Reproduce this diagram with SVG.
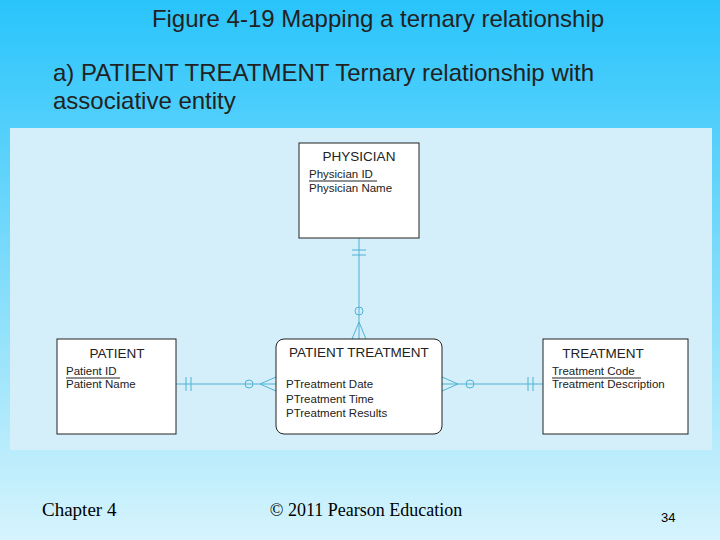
<svg xmlns="http://www.w3.org/2000/svg" width="720" height="540" viewBox="0 0 720 540">
<defs>
<linearGradient id="bg" x1="0" y1="0" x2="0" y2="1">
<stop offset="0" stop-color="#29c4fb"/><stop offset="0.5" stop-color="#7fdcfb"/><stop offset="1" stop-color="#d6f4fd"/>
</linearGradient>
</defs>
<style>
.ent{fill:#fff;stroke:#222;stroke-width:1}
.t{font-family:"Liberation Sans",Arial,sans-serif;fill:#222}
.h{font-size:13.5px}
.a{font-size:11.5px}
.c{stroke:#4fb3d6;stroke-width:1;fill:none}
</style>
<rect width="720" height="540" fill="url(#bg)"/>
<rect x="10" y="128" width="702" height="322" fill="#d4eefa"/>
<text x="378" y="27" text-anchor="middle" class="t" font-size="24" fill="#000">Figure 4-19 Mapping a ternary relationship</text>
<text x="53" y="81" class="t" font-size="24" fill="#000">a) PATIENT TREATMENT Ternary relationship with</text>
<text x="53" y="109" class="t" font-size="24" fill="#000">associative entity</text>
<g id="connectors">
<path class="c" d="M359 238V339M352 250H366M352 255H366M359 322L352 339M359 322L366 339"/>
<circle class="c" cx="359" cy="311" r="4" fill="#d4eefa"/>
<path class="c" d="M176 384H276M186 377V391M191 377V391M260 384L276 377M260 384L276 391"/>
<circle class="c" cx="249" cy="384" r="4" fill="#d4eefa"/>
<path class="c" d="M442 384H543M528 377V391M533 377V391M458 384L442 377M458 384L442 391"/>
<circle class="c" cx="470" cy="384" r="4" fill="#d4eefa"/>
</g>
<g id="physician">
<rect class="ent" x="299" y="143" width="120" height="95"/>
<text x="359" y="161" text-anchor="middle" class="t h">PHYSICIAN</text>
<text x="309" y="178" class="t a">Physician ID</text>
<line x1="309" y1="181" x2="377" y2="181" stroke="#222"/>
<text x="309" y="192" class="t a">Physician Name</text>
</g>
<g id="patient">
<rect class="ent" x="57" y="339" width="119" height="95"/>
<text x="117" y="358" text-anchor="middle" class="t h">PATIENT</text>
<text x="66" y="375" class="t a">Patient ID</text>
<line x1="66" y1="378" x2="120" y2="378" stroke="#222"/>
<text x="66" y="388" class="t a">Patient Name</text>
</g>
<g id="patient-treatment">
<rect class="ent" x="276" y="339" width="166" height="95" rx="8"/>
<text x="359" y="357" text-anchor="middle" class="t h">PATIENT TREATMENT</text>
<text x="286" y="388" class="t a">PTreatment Date</text>
<text x="286" y="403" class="t a">PTreatment Time</text>
<text x="286" y="417" class="t a">PTreatment Results</text>
</g>
<g id="treatment">
<rect class="ent" x="543" y="339" width="145" height="95"/>
<text x="603" y="358" text-anchor="middle" class="t h">TREATMENT</text>
<text x="552" y="375" class="t a">Treatment Code</text>
<line x1="552" y1="378" x2="641" y2="378" stroke="#222"/>
<text x="552" y="388" class="t a">Treatment Description</text>
</g>
<text x="42" y="516" font-family="Liberation Serif,serif" font-size="19" fill="#000">Chapter 4</text>
<text x="366" y="516" text-anchor="middle" font-family="Liberation Serif,serif" font-size="18" fill="#000">© 2011 Pearson Education</text>
<text x="661" y="522" font-family="Liberation Sans,sans-serif" font-size="13" fill="#000">34</text>
</svg>
